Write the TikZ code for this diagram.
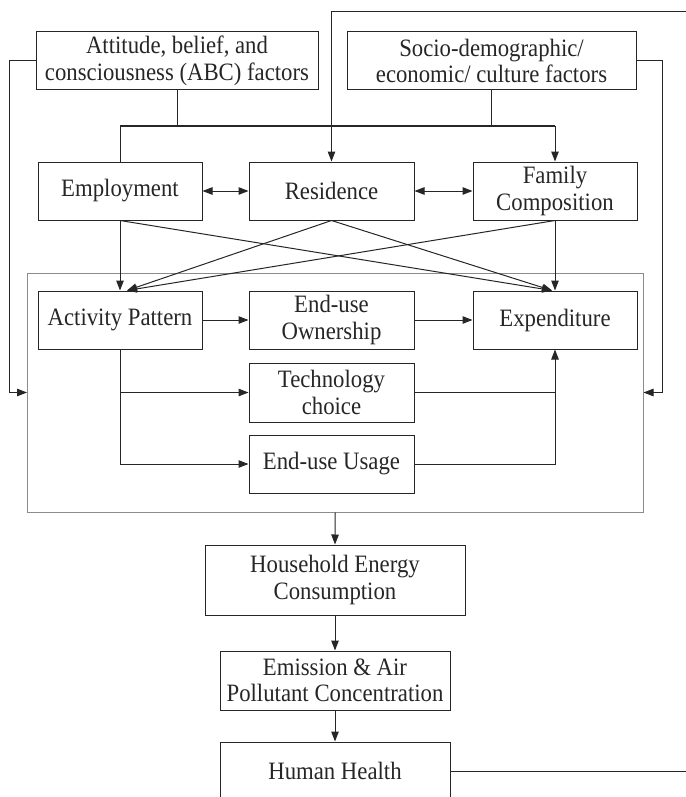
\documentclass[tikz,border=0pt]{standalone}
\usepackage{fontspec}
\setmainfont{Liberation Serif}[FakeStretch=0.91]
\usetikzlibrary{arrows.meta,calc}
\begin{document}
\begin{tikzpicture}[x=1pt,y=-1pt,
  box/.style={draw=black!85,line width=1pt,rectangle,inner sep=0pt,align=center,
    font=\fontsize{25}{26.5}\selectfont,text=black!85},
  ln/.style={draw=black!85,line width=1pt},
  arr/.style={ln,-{Triangle[length=10pt,width=7.5pt]}},
  darr/.style={ln,{Triangle[length=10pt,width=7.5pt]}-{Triangle[length=10pt,width=7.5pt]}}]
\useasboundingbox (0,0) rectangle (685,797);
% grey frame
\node[draw=black!45,line width=1pt,minimum width=615.5pt,minimum height=239pt,inner sep=0pt] (gray) at (335.25,392.5) {};
% nodes
\node[box,minimum width=282pt,minimum height=58pt] (abc) at (177,61) {Attitude, belief, and\\consciousness (ABC) factors};
\node[box,minimum width=289pt,minimum height=58pt] (soc) at (491.5,61) {Socio-demographic/\\economic/ culture factors};
\node[box,minimum width=164pt,minimum height=58pt] (emp) at (120,191) {Employment};
\node[box,minimum width=165pt,minimum height=58pt] (res) at (331.5,191) {Residence};
\node[box,minimum width=164pt,minimum height=58pt] (fam) at (555,191) {Family\\Composition};
\node[box,minimum width=164pt,minimum height=58pt] (act) at (120,320) {Activity Pattern};
\node[box,minimum width=165pt,minimum height=58pt] (own) at (331.5,320) {End-use\\Ownership};
\node[box,minimum width=164pt,minimum height=58pt] (exp) at (555,320) {Expenditure};
\node[box,minimum width=165pt,minimum height=59pt] (tech) at (331.5,392.5) {Technology\\choice};
\node[box,minimum width=165pt,minimum height=58pt] (usage) at (331.5,464) {End-use Usage};
\node[box,minimum width=260pt,minimum height=70pt] (hh) at (335,580) {Household Energy\\Consumption};
\node[box,minimum width=230pt,minimum height=59pt] (em) at (335,680.5) {Emission \& Air\\Pollutant Concentration};
\node[box,minimum width=230pt,minimum height=58pt] (health) at (335,771) {Human Health};
% coordinates
\coordinate (jl) at (120,126);
\coordinate (jr) at (555,126);
\coordinate (tr) at (700,12);
\coordinate (actin) at ($(act.north)+(7,0)$);
\coordinate (expin) at ($(exp.north)+(-3,0)$);
% top feedback
\draw[arr] (health.east) -| (tr) -| (res.north);
% junction
\draw[ln] (abc.south) -- (abc.south |- jl);
\draw[ln] (soc.south) -- (soc.south |- jl);
\draw[ln] (jl) -- (jr);
\draw[ln] (jl) -- (emp.north);
\draw[arr] (jr) -- (fam.north);
% double arrows
\draw[darr] (emp.east) -- (res.west);
\draw[darr] (res.east) -- (fam.west);
% cross arrows
\draw[arr] (emp.south) -- (act.north);
\draw[arr] (emp.south) -- (expin);
\draw[arr] (res.south) -- (actin);
\draw[arr] (res.south) -- (expin);
\draw[arr] (fam.south) -- (actin);
\draw[arr] (fam.south) -- (exp.north);
% inner
\draw[arr] (act.east) -- (own.west);
\draw[arr] (own.east) -- (exp.west);
\draw[arr] (act.south) |- (tech.west);
\draw[arr] (act.south) |- (usage.west);
\draw[ln] (tech.east) -- (tech.east -| exp.south);
\draw[arr] (usage.east) -| (exp.south);
% side feedbacks
\draw[arr] (abc.west) -- ++(-26,0) |- (gray.west);
\draw[arr] (soc.east) -- ++(26,0) |- (gray.east);
% chain
\draw[arr] (gray.south) -- (hh.north);
\draw[arr] (hh.south) -- (em.north);
\draw[arr] (em.south) -- (health.north);
\end{tikzpicture}
\end{document}
